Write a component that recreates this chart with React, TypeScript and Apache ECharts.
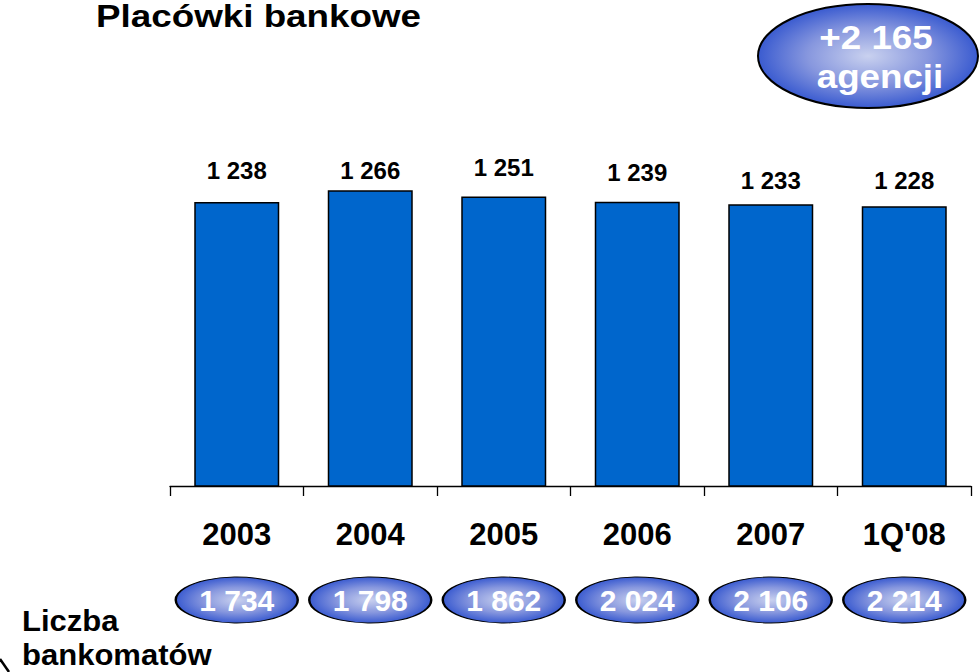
import React, { useEffect, useRef } from "react";
import * as echarts from "echarts";

const categories = ["2003", "2004", "2005", "2006", "2007", "1Q'08"];
const branches = [1238, 1266, 1251, 1239, 1233, 1228];
const atms = [1734, 1798, 1862, 2024, 2106, 2214];
const titleText = "Placówki bankowe";
const badgeLines = ["+2 165", "agencji"];
const atmCaption = ["Liczba", "bankomatów"];
// label gap above each bar (style only)
const labelGap = [19.6, 8, 16.6, 16.7, 11.2, 13.3];

const fmt = (v: number) => {
  const s = String(v);
  return s.length > 3 ? s.slice(0, s.length - 3) + " " + s.slice(-3) : s;
};

const FONT = "'Liberation Sans', Arial, Helvetica, sans-serif";

const ovalFill = () =>
  new echarts.graphic.RadialGradient(0.5, 0.5, 0.5, [
    { offset: 0, color: "#c9d1ef" },
    { offset: 0.55, color: "#8797de" },
    { offset: 1, color: "#3a5bd0" },
  ]);

export default function App() {
  const ref = useRef<HTMLDivElement>(null);
  useEffect(() => {
    if (!ref.current) return;
    const chart = echarts.init(ref.current, undefined, { renderer: "svg" });
    chart.setOption({
      animation: false,
      backgroundColor: "#ffffff",
      textStyle: { fontFamily: FONT },
      grid: [
        { left: 170, right: 8, top: 134, height: 352 },
        { left: 170, right: 8, top: 577, height: 46 },
      ],
      xAxis: [
        {
          type: "category",
          data: categories,
          gridIndex: 0,
          axisLine: { lineStyle: { color: "#000", width: 1.3 } },
          axisTick: { show: true, length: 10, lineStyle: { color: "#000", width: 1.3 } },
          axisLabel: {
            color: "#000",
            fontWeight: "bold",
            fontSize: 31,
            lineHeight: 32,
            margin: 32,
            fontFamily: FONT,
          },
        },
        {
          type: "category",
          data: categories,
          gridIndex: 1,
          show: false,
        },
      ],
      yAxis: [
        { type: "value", min: 562, max: 1400, show: false, gridIndex: 0, splitLine: { show: false } },
        { type: "value", min: 0, max: 2, show: false, gridIndex: 1, splitLine: { show: false } },
      ],
      series: [
        {
          type: "bar",
          xAxisIndex: 0,
          yAxisIndex: 0,
          data: branches.map((v, i) => ({ value: v, label: { distance: labelGap[i] } })),
          barWidth: 85,
          itemStyle: { color: "#0066cc", borderColor: "#000", borderWidth: 1.5 },
          label: {
            show: true,
            position: "top",
            distance: 14,
            color: "#000",
            fontWeight: "bold",
            fontSize: 24,
            lineHeight: 24,
            fontFamily: FONT,
            formatter: (p: any) => fmt(p.value),
          },
        },
        {
          type: "scatter",
          xAxisIndex: 1,
          yAxisIndex: 1,
          data: atms.map((v, i) => [categories[i], 1, v]),
          symbol: "circle",
          symbolSize: [122, 46],
          itemStyle: { color: ovalFill(), borderColor: "#000", borderWidth: 1.5, opacity: 1 },
          label: {
            show: true,
            position: "inside",
            color: "#fff",
            fontWeight: "bold",
            fontSize: 30,
            fontFamily: FONT,
            formatter: (p: any) => fmt(p.value[2]),
          },
        },
      ],
      graphic: [
        {
          type: "text",
          x: 96,
          y: 16,
          scaleX: 1.15,
          style: {
            text: titleText,
            fontSize: 32,
            lineHeight: 32,
            fontWeight: "bold",
            fontFamily: FONT,
            fill: "#000",
            align: "left",
            verticalAlign: "middle",
          },
        },
        {
          type: "ellipse",
          shape: { cx: 868, cy: 56, rx: 110, ry: 52 },
          style: { fill: ovalFill(), stroke: "#000", lineWidth: 2 },
        },
        {
          type: "text",
          x: 876,
          y: 37,
          scaleX: 1.08,
          style: {
            text: badgeLines[0],
            fontSize: 34,
            fontWeight: "bold",
            fontFamily: FONT,
            fill: "#fff",
            align: "center",
            verticalAlign: "middle",
          },
        },
        {
          type: "text",
          x: 880,
          y: 76,
          scaleX: 1.08,
          style: {
            text: badgeLines[1],
            fontSize: 34,
            fontWeight: "bold",
            fontFamily: FONT,
            fill: "#fff",
            align: "center",
            verticalAlign: "middle",
          },
        },
        {
          type: "text",
          x: 22,
          y: 621,
          scaleX: 1.07,
          style: {
            text: atmCaption[0],
            fontSize: 29,
            fontWeight: "bold",
            fontFamily: FONT,
            fill: "#000",
            align: "left",
            verticalAlign: "middle",
          },
        },
        {
          type: "text",
          x: 22,
          y: 655,
          scaleX: 1.07,
          style: {
            text: atmCaption[1],
            fontSize: 29,
            fontWeight: "bold",
            fontFamily: FONT,
            fill: "#000",
            align: "left",
            verticalAlign: "middle",
          },
        },
        {
          type: "line",
          shape: { x1: 0, y1: 659, x2: 9, y2: 672 },
          style: { stroke: "#000", lineWidth: 2.5 },
        },
      ],
    });
    return () => chart.dispose();
  }, []);
  return (
    <div
      ref={ref}
      style={{ position: "fixed", left: 0, top: 0, width: 979, height: 672 }}
    />
  );
}
